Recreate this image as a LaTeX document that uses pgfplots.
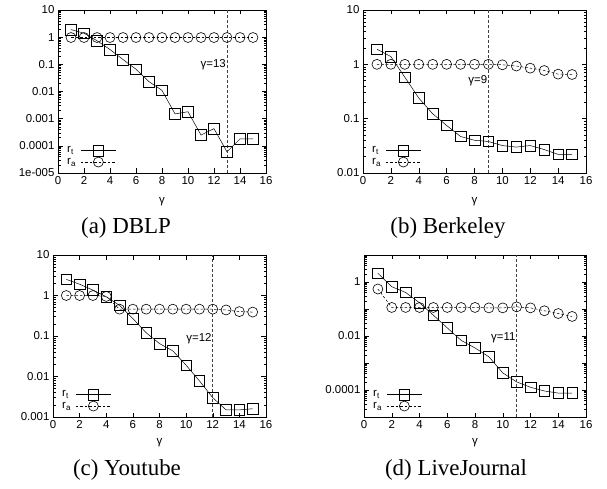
\documentclass[border=0pt]{standalone}
\usepackage{fontspec}
\setmainfont{Liberation Sans}
\newfontfamily\capfont{Liberation Serif}
\usepackage{pgfplots}
\pgfplotsset{compat=1.18}

\newcommand{\tkfont}{\fontsize{11.5}{12}\selectfont}
\pgfplotsset{
  gpaxis/.style={
    scale only axis, anchor=south west,
    xmin=0, xmax=16, xtick={0,2,...,16},
    tick align=inside, tick pos=both,
    major tick length=4.5bp, minor tick length=2.5bp,
    tick style={black, line width=0.5pt},
    axis line style={line width=0.6pt},
    tick label style={font=\tkfont},
    /pgf/number format/assume math mode=true,
    xlabel={γ},
    every axis x label/.style={at={(axis description cs:0.5,0)}, anchor=center, font=\tkfont},
    legend style={draw=none, fill=none, font=\tkfont,
      at={(axis description cs:0,0)}, anchor=south west, xshift=6bp, yshift=4bp,
      row sep=0pt, inner sep=1pt,
      cells={anchor=west, inner sep=1bp, text height=6bp, text depth=2bp}},
    legend plot pos=right,
  },
  rt/.style={black, line width=0.5pt, mark=square, mark size=5.3bp, mark options={solid, line width=0.6pt}},
  ra/.style={black, line width=0.5pt, dash pattern=on 2.5bp off 2bp, mark=o, mark size=5bp, mark options={solid, line width=0.6pt}},
  vline/.style={black!75, line width=0.6pt, dash pattern=on 3bp off 2bp, forget plot},
}
\tikzset{glabel/.style={font=\tkfont, anchor=east, inner sep=1bp}}
\pgfplotsset{legend image code/.code={%
  \begin{pgfinterruptboundingbox}
  \draw[mark repeat=2, mark phase=2, #1] plot coordinates {(0.1cm,0cm) (0.72cm,0cm) (1.34cm,0cm)};
  \end{pgfinterruptboundingbox}
  \path[draw=none, fill=none] (0cm,-3bp) rectangle (1.34cm,3bp);}}

\begin{document}
\begin{tikzpicture}
\path[use as bounding box] (0,0) rectangle (607bp,489bp);

% (a) DBLP
\begin{axis}[ymode=log, gpaxis, at={(58bp,316bp)}, width=208bp, height=163bp,
  xlabel style={yshift=-29bp},
  ymin=1e-5, ymax=10, ytick={1e-5,1e-4,0.001,0.01,0.1,1,10},
  yticklabels={1e-005,0.0001,0.001,0.01,0.1,1,10}]
\addplot[rt] coordinates {(1,1.9) (2,1.4) (3,0.74) (4,0.35) (5,0.15) (6,0.066) (7,0.023) (8,0.011) (9,0.0015) (10,0.0018) (11,0.00025) (12,0.00043) (13,0.00006) (14,0.00018) (15,0.00018)};
\addlegendentry{r\textsubscript{t}}
\addplot[ra] coordinates {(1,0.97) (2,0.97) (3,0.97) (4,0.97) (5,0.97) (6,0.97) (7,0.97) (8,0.97) (9,0.97) (10,0.97) (11,0.97) (12,0.97) (13,0.97) (14,0.97) (15,0.97)};
\addlegendentry{r\textsubscript{a}}
\addplot[vline] coordinates {(13,1e-5) (13,10)};
\node[glabel] at (axis cs:13,0.1) {γ=13};
\end{axis}

% (b) Berkeley
\begin{axis}[ymode=log, gpaxis, at={(363bp,316bp)}, width=223bp, height=163bp,
  xlabel style={yshift=-29bp},
  ymin=0.01, ymax=10, ytick={0.01,0.1,1,10},
  yticklabels={0.01,0.1,1,10}]
\addplot[rt] coordinates {(1,1.9) (2,1.39) (3,0.58) (4,0.24) (5,0.123) (6,0.075) (7,0.047) (8,0.040) (9,0.038) (10,0.032) (11,0.030) (12,0.032) (13,0.027) (14,0.022) (15,0.022)};
\addlegendentry{r\textsubscript{t}}
\addplot[ra] coordinates {(1,1) (2,1) (3,1) (4,1) (5,1) (6,1) (7,1) (8,1) (9,1) (10,0.98) (11,0.93) (12,0.85) (13,0.77) (14,0.66) (15,0.65)};
\addlegendentry{r\textsubscript{a}}
\addplot[vline] coordinates {(9,0.01) (9,10)};
\node[glabel] at (axis cs:9,0.5) {γ=9};
\end{axis}

% (c) Youtube
\begin{axis}[ymode=log, gpaxis, at={(53bp,72bp)}, width=213bp, height=162bp,
  xlabel style={yshift=-26bp},
  ymin=0.001, ymax=10, ytick={0.001,0.01,0.1,1,10},
  yticklabels={0.001,0.01,0.1,1,10}]
\addplot[rt] coordinates {(1,2.5) (2,1.9) (3,1.36) (4,0.93) (5,0.57) (6,0.27) (7,0.12) (8,0.065) (9,0.043) (10,0.019) (11,0.0078) (12,0.003) (13,0.0015) (14,0.0015) (15,0.0016)};
\addlegendentry{r\textsubscript{t}}
\addplot[ra] coordinates {(1,1) (2,1) (3,1) (4,0.95) (5,0.46) (6,0.46) (7,0.46) (8,0.46) (9,0.46) (10,0.46) (11,0.46) (12,0.46) (13,0.44) (14,0.40) (15,0.39)};
\addlegendentry{r\textsubscript{a}}
\addplot[vline] coordinates {(12,0.001) (12,10)};
\node[glabel] at (axis cs:12,0.087) {γ=12};
\end{axis}

% (d) LiveJournal
\begin{axis}[ymode=log, gpaxis, at={(364bp,72bp)}, width=222bp, height=162bp,
  xlabel style={yshift=-26bp},
  ymin=1e-5, ymax=10, ytick={1e-5,1e-4,0.001,0.01,0.1,1,10},
  yticklabels={,0.0001,,0.01,,1,}]
\addplot[rt] coordinates {(1,2.1) (2,0.67) (3,0.41) (4,0.17) (5,0.059) (6,0.020) (7,0.0069) (8,0.0036) (9,0.0017) (10,0.00043) (11,0.00020) (12,0.000126) (13,0.000092) (14,0.000077) (15,0.000077)};
\addlegendentry{r\textsubscript{t}}
\addplot[ra] coordinates {(1,0.55) (2,0.114) (3,0.114) (4,0.114) (5,0.114) (6,0.114) (7,0.114) (8,0.114) (9,0.11) (10,0.11) (11,0.12) (12,0.11) (13,0.086) (14,0.068) (15,0.053)};
\addlegendentry{r\textsubscript{a}}
\addplot[vline] coordinates {(11,1e-5) (11,10)};
\node[glabel] at (axis cs:11,0.0085) {γ=11};
\end{axis}

\node[font=\capfont\fontsize{23}{26}\selectfont, anchor=base] at (126bp,255bp) {(a) DBLP};
\node[font=\capfont\fontsize{23}{26}\selectfont, anchor=base] at (448bp,255bp) {(b) Berkeley};
\node[font=\capfont\fontsize{23}{26}\selectfont, anchor=base] at (127bp,14bp) {(c) Youtube};
\node[font=\capfont\fontsize{23}{26}\selectfont, anchor=base] at (456bp,14bp) {(d) LiveJournal};
\end{tikzpicture}
\end{document}
